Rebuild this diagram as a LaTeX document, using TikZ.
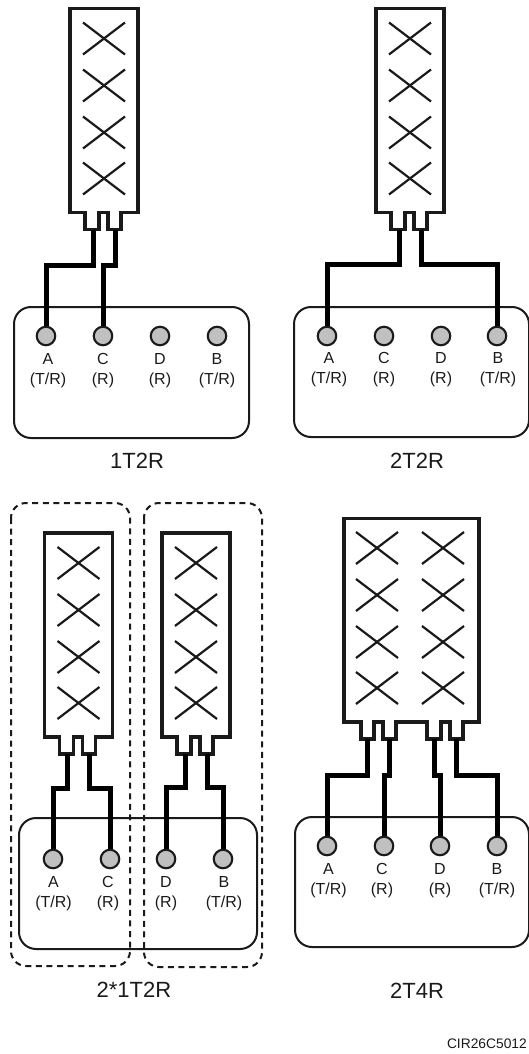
\documentclass[tikz,border=0pt]{standalone}
\usepackage{fontspec}
\setmainfont{Liberation Sans}
\definecolor{linegray}{HTML}{1A1A1A}
\definecolor{portgray}{HTML}{C0C0C0}
\tikzset{
  antbody/.style={draw=linegray, line width=3.2pt, fill=white, miter limit=10},
  element/.style={draw=linegray, line width=2.2pt},
  cable/.style={draw=black, line width=5pt},
  radiobox/.style={draw=linegray, line width=2pt, rounded corners=17pt},
  groupbox/.style={draw=linegray, line width=2pt, rounded corners=15pt, dash pattern=on 6pt off 4.6pt},
  port/.style={circle, draw=linegray, fill=portgray, line width=2.1pt, inner sep=0pt, minimum size=18.5pt},
  portlabel/.style={align=center, inner sep=0pt, text=linegray, font=\fontsize{16}{20}\selectfont},
  caption/.style={inner sep=0pt, text=linegray, font=\fontsize{22}{24}\selectfont}
}
\begin{document}
\begin{tikzpicture}
[x=1pt,y=-1pt]
\useasboundingbox (0,0) rectangle (528,1054);
% radio boxes
\draw[radiobox] (14,307) rectangle (249,438);
\draw[radiobox] (294,307) rectangle (529,437);
\draw[radiobox] (19,818) rectangle (257,949);
\draw[radiobox] (295,817) rectangle (529,947);
% groups
\draw[groupbox] (11,503) rectangle (130,966);
\draw[groupbox] (144,503) rectangle (262,967);
% narrow antennas
\foreach \ant/\cx/\ytop in {one/104/8.5,two/410/8.5,threel/78.5/533,threer/196/533}
{
  \draw[antbody] ({\cx+34},\ytop) -- ++(0,204) -- ++(-17,0) -- ++(0,17) -- ++(-13,0) -- ++(0,-17)
    -- ++(-9,0) -- ++(0,17) -- ++(-14,0) -- ++(0,-17) -- ++(-15,0) -- ({\cx-34},\ytop) -- cycle;
  \foreach \dy in {30,77,124,170}
  {
    \draw[element] ({\cx-21},{\ytop+\dy-16}) -- ++(42,32);
    \draw[element] ({\cx-21},{\ytop+\dy+16}) -- ++(42,-32);
  }
  \coordinate (\ant-l) at ({\cx-11},{\ytop+221});
  \coordinate (\ant-r) at ({\cx+11},{\ytop+221});
}
% wide antenna
\draw[antbody] (479,518.5) -- (479,722) -- (463,722) -- (463,739) -- (450,739) -- (450,722)
  -- (441,722) -- (441,739) -- (427,739) -- (427,722) -- (396,722) -- (396,739) -- (383,739)
  -- (383,722) -- (374,722) -- (374,739) -- (361,739) -- (361,722) -- (344,722) -- (344,518.5) -- cycle;
\foreach \xc in {377,443}
{
  \foreach \yc in {548,595,642,688}
  {
    \draw[element] ({\xc-21},{\yc-16}) -- ++(42,32);
    \draw[element] ({\xc-21},{\yc+16}) -- ++(42,-32);
  }
}
\coordinate (fourc1) at (367,739);
\coordinate (fourc2) at (389,739);
\coordinate (fourc3) at (434,739);
\coordinate (fourc4) at (456,739);
% ports
\foreach \tagn/\px/\lx/\letter/\kind in {a/46/48/A/T\slash R,c/103/103/C/R,d/160/160/D/R,b/217/217/B/T\slash R}
{
  \node[port] (one\tagn) at (\px,336) {};
  \node[portlabel] (onetxt\tagn) at (\lx,371) {\letter\\(\kind)};
}
\foreach \tagn/\px/\lx/\letter/\kind in {a/327/329/A/T\slash R,c/384/384/C/R,d/441/441/D/R,b/497/498/B/T\slash R}
{
  \node[port] (two\tagn) at (\px,336) {};
  \node[portlabel] (twotxt\tagn) at (\lx,370) {\letter\\(\kind)};
}
\foreach \tagn/\px/\lx/\letter/\kind in {a/53/53.5/A/T\slash R,c/110/108/C/R,d/166/166/D/R,b/223/224/B/T\slash R}
{
  \node[port] (three\tagn) at (\px,859) {};
  \node[portlabel] (threetxt\tagn) at (\lx,894) {\letter\\(\kind)};
}
\foreach \tagn/\px/\lx/\letter/\kind in {a/327/328.5/A/T\slash R,c/384/382/C/R,d/440/440/D/R,b/497/497/B/T\slash R}
{
  \node[port] (four\tagn) at (\px,846) {};
  \node[portlabel] (fourtxt\tagn) at (\lx,881) {\letter\\(\kind)};
}
% cables
\draw[cable] (one-l) -- ++(0,36) -| (onea.north);
\draw[cable] (one-r) -- ++(0,36) -| (onec.north);
\draw[cable] (two-l) -- ++(0,35) -| (twoa.north);
\draw[cable] (two-r) -- ++(0,35) -| (twob.north);
\draw[cable] (threel-l) -- ++(0,34) -| (threea.north);
\draw[cable] (threel-r) -- ++(0,34) -| (threec.north);
\draw[cable] (threer-l) -- ++(0,33) -| (threed.north);
\draw[cable] (threer-r) -- ++(0,33) -| (threeb.north);
\draw[cable] (fourc1) -- ++(0,36) -| (foura.north);
\draw[cable] (fourc2) -- ++(0,36) -| (fourc.north);
\draw[cable] (fourc3) -- ++(0,36) -| (fourd.north);
\draw[cable] (fourc4) -- ++(0,36) -| (fourb.north);
% captions
\node[caption] (cap1t2r) at (137,461) {1T2R};
\node[caption] (cap2t2r) at (417,461) {2T2R};
\node[caption] (cap21t2r) at (134,990) {2*1T2R};
\node[caption] (cap2t4r) at (417,991) {2T4R};
\node[inner sep=0pt, anchor=east, text=linegray, font=\fontsize{13.8}{14}\selectfont] (figid) at (527,1044) {CIR26C5012};
\end{tikzpicture}
\end{document}
